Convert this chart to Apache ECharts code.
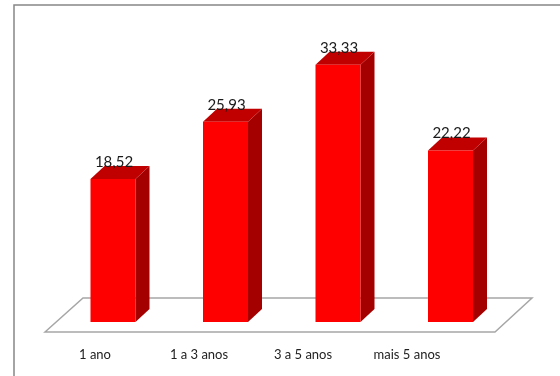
<!DOCTYPE html>
<html>
<head>
<meta charset="utf-8">
<script src="https://cdn.jsdelivr.net/npm/echarts@6/dist/echarts.min.js"></script>
<style>
  html, body { margin: 0; padding: 0; background: #fff; }
  #chart { width: 560px; height: 376px; }
</style>
</head>
<body>
<div id="chart"></div>
<script>
var categorias = ['1 ano', '1 a 3 anos', '3 a 5 anos', 'mais 5 anos'];
var valores = [18.52, 25.93, 33.33, 22.22];
var fonte = "Lato, 'Liberation Sans', sans-serif";

// profundidade do efeito 3D
var dx = 14, dy = -13;

const renderBarra = (params, api) => {
  var topo = api.coord([api.value(0), api.value(1)]);
  var base = api.coord([api.value(0), 0]);
  var w = api.size([1, 0])[0] * 0.4;
  var x0 = topo[0] - w / 2;
  var x1 = x0 + w;
  var yT = topo[1], yB = base[1];
  var txt = api.value(1).toFixed(2).replace('.', ',');
  return {
    type: 'group',
    children: [
      { type: 'polygon', shape: { points: [[x1, yT], [x1 + dx, yT + dy], [x1 + dx, yB + dy], [x1, yB]] },
        style: { fill: '#a50000' } },
      { type: 'polygon', shape: { points: [[x0, yT], [x0 + dx, yT + dy], [x1 + dx, yT + dy], [x1, yT]] },
        style: { fill: '#c00000' } },
      { type: 'rect', shape: { x: x0, y: yT, width: w, height: yB - yT },
        style: { fill: '#ff0000' } },
      { type: 'text', x: topo[0] + 1, y: yT - 17,
        style: { text: txt, fill: '#1a1a1a', font: '15px ' + fonte, align: 'center', verticalAlign: 'middle' } }
    ]
  };
};

const getOpcao = () => {
  return {
    animation: false,
    grid: [
      { left: 56.75, right: 53.25, top: 13.2, bottom: 54 },
      { left: 43, right: 101, top: 0, bottom: 31 }
    ],
    xAxis: [
      { type: 'category', gridIndex: 0, data: categorias, show: false },
      { type: 'category', gridIndex: 1, data: categorias,
        axisLine: { show: false }, axisTick: { show: false },
        axisLabel: { margin: 3, color: '#222', fontSize: 13, fontFamily: fonte } }
    ],
    yAxis: [
      { type: 'value', gridIndex: 0, min: 0, max: 40, show: false },
      { type: 'value', gridIndex: 1, show: false }
    ],
    graphic: [
      { type: 'rect', shape: { x: 14, y: 5, width: 600, height: 400 },
        style: { fill: 'none', stroke: '#878787', lineWidth: 1.5 }, z: 0 },
      { type: 'polygon', shape: { points: [[45, 332], [83, 298], [532, 298], [495, 332]] },
        style: { fill: '#fff', stroke: '#a6a6a6', lineWidth: 1.5 }, z: 0 }
    ],
    series: [
      {
        type: 'custom',
        xAxisIndex: 0, yAxisIndex: 0,
        renderItem: renderBarra,
        data: categorias.map((c, i) => [i, valores[i]]),
        z: 10
      }
    ]
  };
};

const grafico = echarts.init(document.getElementById('chart'));
grafico.setOption(getOpcao());
</script>
</body>
</html>
